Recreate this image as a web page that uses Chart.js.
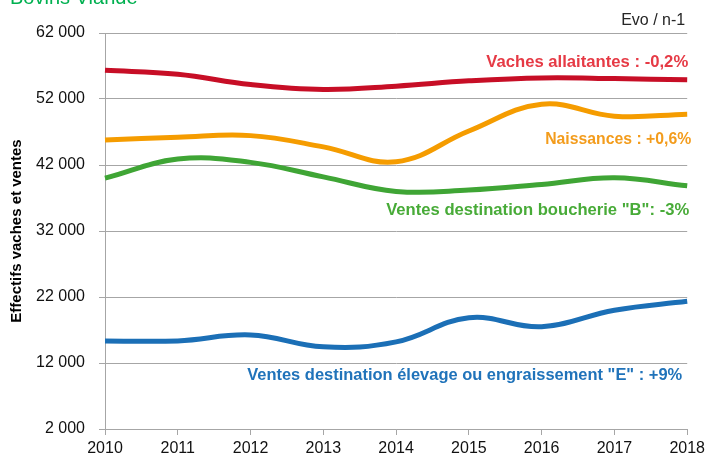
<!DOCTYPE html>
<html>
<head>
<meta charset="utf-8">
<script src="https://cdn.jsdelivr.net/npm/chart.js@4"></script>
<style>
  html, body { margin: 0; padding: 0; background: #fff; }
  #wrap { width: 709px; height: 453px; position: relative; }
</style>
</head>
<body>
<div id="wrap"><canvas id="chart" width="709" height="453"></canvas></div>
<script>
// ====== Data ======
const years = ['2010', '2011', '2012', '2013', '2014', '2015', '2016', '2017', '2018'];
const vachesAllaitantes = [56350, 55750, 54200, 53450, 53950, 54750, 55200, 55100, 54900];
const naissances = [45800, 46200, 46450, 44750, 42500, 47150, 51200, 49400, 49700];
const ventesBoucherie = [40000, 42900, 42400, 40200, 38000, 38200, 39050, 40050, 38850];
const ventesElevage = [15350, 15350, 16250, 14450, 15200, 18850, 17500, 20000, 21350];

const yMin = 2000, yMax = 62000, yStep = 10000;

// ====== Labels drawn on the plot ======
// value = vertical centre of the text, right aligned to the plot right edge
const seriesNotes = [
  { text: 'Vaches allaitantes : -0,2%', value: 57600, color: '#E63A45', maxW: 202, dx: 1 },
  { text: 'Naissances : +0,6%', value: 45950, color: '#F39C1C', maxW: 146, dx: 4 },
  { text: 'Ventes destination boucherie "B": -3%', value: 35200, color: '#48AB38', maxW: 303, dx: 2 },
  { text: 'Ventes destination élevage ou engraissement "E" : +9%', value: 10200, color: '#2073BA', maxW: 435, dx: -5 }
];

function fmt(v) {
  return String(v).replace(/\B(?=(\d{3})+(?!\d))/g, ' ');
}

const notesPlugin = {
  id: 'notes',
  afterDatasetsDraw(chart) {
    const c = chart.ctx, area = chart.chartArea, y = chart.scales.y;
    c.save();
    c.textAlign = 'right';
    c.textBaseline = 'middle';
    c.font = 'bold 17px "Liberation Sans", Arial, sans-serif';
    seriesNotes.forEach(n => {
      c.fillStyle = n.color;
      c.fillText(n.text, area.right + n.dx, y.getPixelForValue(n.value), n.maxW);
    });
    // top right note
    c.fillStyle = '#262626';
    c.font = '16px "Liberation Sans", Arial, sans-serif';
    c.fillText('Evo / n-1', area.right - 2, 21, 69);
    // chart title, cut by the top edge
    c.textAlign = 'left';
    c.textBaseline = 'alphabetic';
    c.fillStyle = '#00B050';
    c.font = '20px "Liberation Sans", Arial, sans-serif';
    c.fillText('Bovins Viande', 10, 4, 134);
    c.restore();
  }
};

function lineSet(data, color) {
  return {
    data: data,
    borderColor: color,
    backgroundColor: color,
    borderWidth: 5,
    pointRadius: 0,
    tension: 0.4,
    fill: false
  };
}

const gridGray = '#A6A6A6';
const tickFont = { family: '"Liberation Sans", Arial, sans-serif', size: 16 };

const chart = new Chart(document.getElementById('chart').getContext('2d'), {
  type: 'line',
  data: {
    labels: years,
    datasets: [
      lineSet(vachesAllaitantes, '#C70E26'),
      lineSet(naissances, '#F59C00'),
      lineSet(ventesBoucherie, '#3FA535'),
      lineSet(ventesElevage, '#1B6FB6')
    ]
  },
  options: {
    responsive: false,
    animation: false,
    layout: { padding: { top: 33, right: 21, bottom: 0, left: 0 } },
    plugins: { legend: { display: false }, tooltip: { enabled: false } },
    scales: {
      x: {
        offset: false,
        grid: { drawOnChartArea: false, drawTicks: true, tickLength: 6, color: gridGray },
        border: { color: gridGray, width: 1 },
        ticks: { color: '#111', font: tickFont, padding: 4, maxRotation: 0, autoSkip: false },
        afterFit(scale) { scale.height = 24; }
      },
      y: {
        min: yMin,
        max: yMax,
        grid: { color: gridGray, lineWidth: 1, tickLength: 6 },
        border: { color: gridGray, width: 1 },
        ticks: {
          stepSize: yStep,
          color: '#111',
          font: tickFont,
          padding: 14,
          callback: v => fmt(v)
        },
        title: {
          display: true,
          text: 'Effectifs vaches et ventes',
          color: '#000',
          font: { family: '"Liberation Sans", Arial, sans-serif', size: 15, weight: 'bold' },
          padding: { top: 8, bottom: 0 }
        },
        afterFit(scale) { scale.width = 105; }
      }
    }
  },
  plugins: [notesPlugin]
});
</script>
</body>
</html>
